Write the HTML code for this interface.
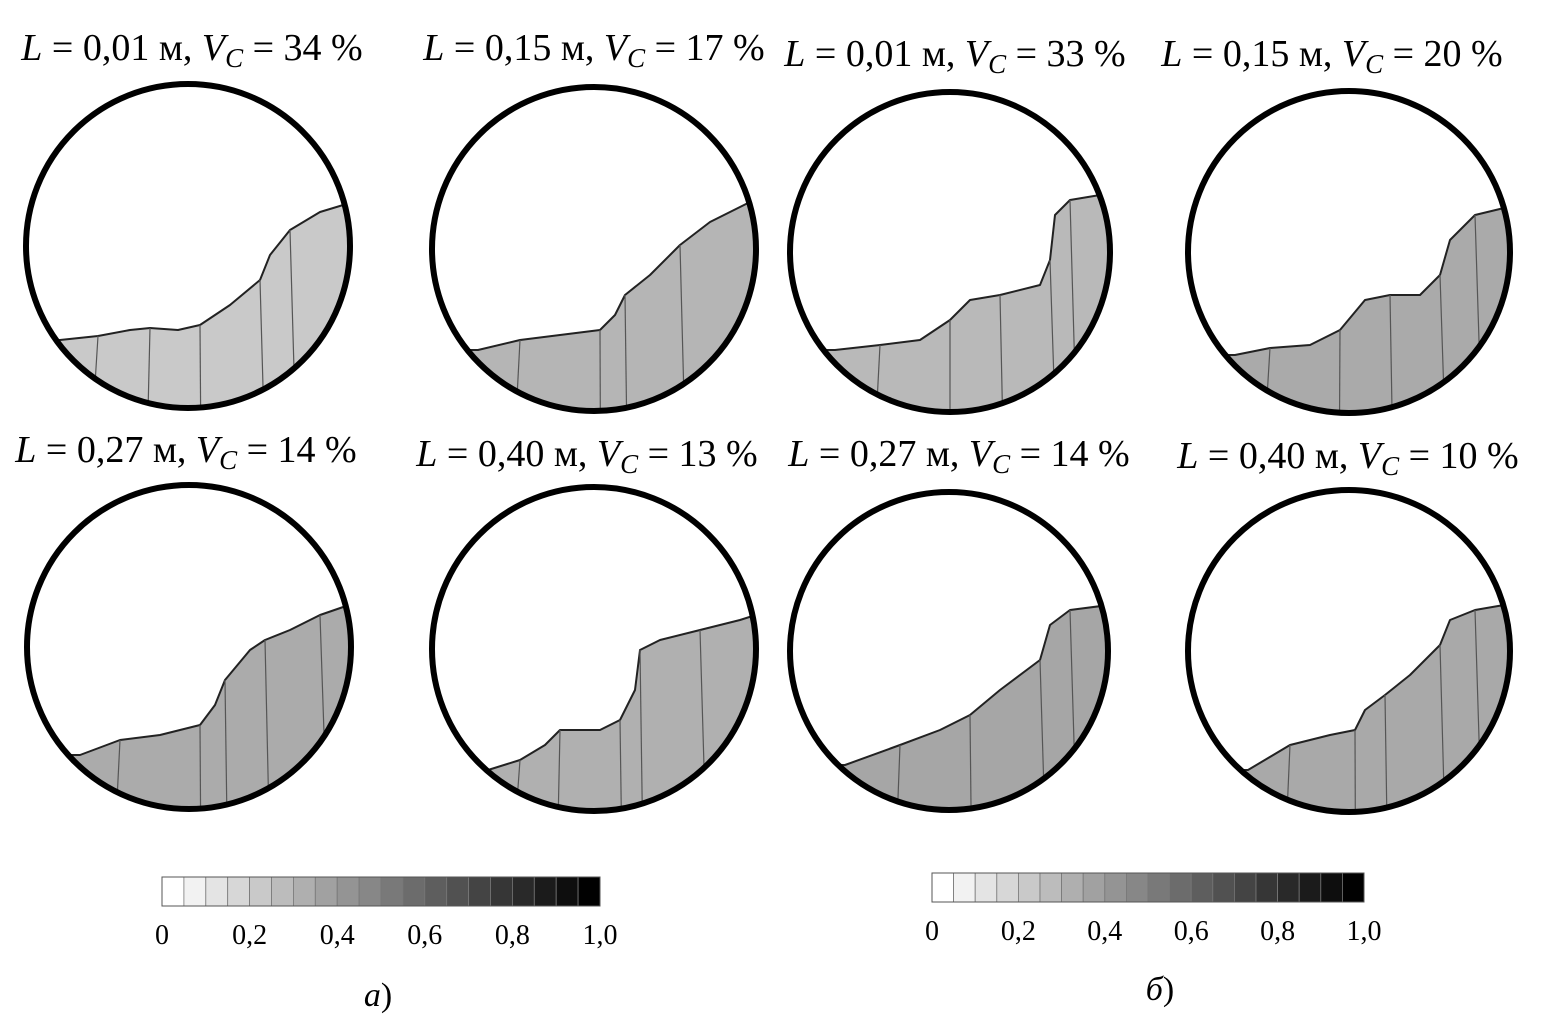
<!DOCTYPE html>
<html><head><meta charset="utf-8">
<style>
html,body{margin:0;padding:0;background:#fff;}
body{width:1544px;height:1030px;overflow:hidden;font-family:"Liberation Serif","Noto Serif CJK SC",serif;}
svg{position:absolute;left:0;top:0;}
text{font-family:"Liberation Serif","Noto Serif CJK SC",serif;}
</style></head>
<body>
<svg id="fig" width="1544" height="1030" viewBox="0 0 1544 1030"></svg>
<script>
const NS="http://www.w3.org/2000/svg";
const titleL=["0,01","0,15","0,01","0,15","0,27","0,40","0,27","0,40"];
const titleV=["34","17","33","20","14","13","14","10"];
const centersX=[188,594,950,1349,189,594,949,1349];
const centersY=[246,249,252,252,647,649,651,651];
const radii=[162,162,160,161,162,162,159,161];
const titleX=[192,594,955,1332,186,587,959,1348];
const titleY=[60,60,66,66,462,466,466,468];
const fills=["#c9c9c9","#b5b5b5","#b9b9b9","#aaaaaa","#ababab","#b0b0b0","#a6a6a6","#a9a9a9"];
const interfaces=[
 [[-128,94],[-90,90],[-58,84],[-38,82],[-10,84],[12,79],[42,59],[72,34],[82,9],[102,-16],[132,-34],[165,-44]],
 [[-116,101],[-74,91],[-34,86],[6,81],[21,66],[31,46],[56,26],[86,-4],[116,-27],[160,-49]],
 [[-115,98],[-70,93],[-30,88],[0,68],[20,48],[50,43],[90,33],[100,8],[105,-37],[120,-52],[150,-57],[165,-55]],
 [[-114,103],[-79,96],[-39,93],[-9,78],[16,48],[41,43],[71,43],[91,23],[101,-12],[126,-37],[155,-44]],
 [[-109,108],[-69,93],[-29,88],[11,78],[26,58],[36,33],[61,3],[76,-7],[101,-17],[131,-32],[160,-42]],
 [[-106,121],[-74,111],[-49,96],[-34,81],[6,81],[26,71],[41,41],[46,1],[66,-9],[106,-19],[146,-29],[165,-35]],
 [[-104,114],[-49,94],[-9,79],[21,64],[51,39],[91,9],[101,-26],[121,-41],[160,-46]],
 [[-101,119],[-59,94],[-19,84],[6,79],[16,59],[36,44],[61,24],[91,-6],[101,-31],[126,-41],[155,-46]]
];
const barTicks=["0","0,2","0,4","0,6","0,8","1,0"];
const barLevels=[0,0.05,0.1,0.15,0.2,0.25,0.3,0.35,0.4,0.45,0.5,0.55,0.6,0.65,0.7,0.75,0.8,0.85,0.9,0.95];
const bars=[{x:162,y:877,w:438,h:29,ly:944,cap:"а)",cx:378,cy:1006},{x:932,y:873,w:432,h:29,ly:940,cap:"б)",cx:1160,cy:1000}];

const svg=document.getElementById('fig');
function el(tag,attrs,parent){const e=document.createElementNS(NS,tag);for(const k in attrs)e.setAttribute(k,attrs[k]);(parent||svg).appendChild(e);return e;}
const defs=el('defs',{});

for(let i=0;i<8;i++){
 const cx=centersX[i],cy=centersY[i],r=radii[i];
 const g=el('g',{});
 
 
 const cp=el('clipPath',{id:'clip'+i},defs);
 el('circle',{cx:cx,cy:cy,r:r},cp);
 const pts=interfaces[i].map(p=>(cx+p[0])+','+(cy+p[1]));
 const last=interfaces[i][interfaces[i].length-1];
 pts.push((cx+r+20)+','+(cy+last[1]));
 pts.push((cx+r+20)+','+(cy+r+20));
 pts.push((cx-r-20)+','+(cy+r+20));
 pts.push((cx-r-20)+','+(cy+interfaces[i][0][1]));
 const poly=el('polygon',{points:pts.join(' '),fill:fills[i],stroke:'#222','stroke-width':2,'stroke-linejoin':'round','clip-path':'url(#clip'+i+')'},g);
 
 
 const ip=interfaces[i];
 for(let k=1;k<ip.length-1;k+=2){
  const ln=el('line',{x1:cx+ip[k][0],y1:cy+ip[k][1],x2:cx+ip[k][0]*1.05,y2:cy+r,stroke:'#555','stroke-width':1.2,'clip-path':'url(#clip'+i+')'},g);
  
  
 }
 const c=el('circle',{cx:cx,cy:cy,r:r,fill:'none',stroke:'#000','stroke-width':6},g);
 
 
 const t=el('text',{x:titleX[i],y:titleY[i],'font-size':38,'text-anchor':'middle',fill:'#000'});
 
 
 t.innerHTML='<tspan font-style="italic">L</tspan> = '+titleL[i]+' м, <tspan font-style="italic">V</tspan><tspan font-style="italic" font-size="27" dy="7">C</tspan><tspan dy="-7"> = '+titleV[i]+' %</tspan>';
}

bars.forEach((b,bi)=>{
 const g=el('g',{});
 
 
 const n=barLevels.length,cw=b.w/n;
 barLevels.forEach((v,j)=>{
  const gv=Math.round(255*(1-v*1.05));
  const cc=Math.max(0,Math.min(255,gv));
  const rc=el('rect',{x:b.x+j*cw,y:b.y,width:cw,height:b.h,fill:'rgb('+cc+','+cc+','+cc+')',stroke:'#777','stroke-width':0.8},g);
  
  
 });
 el('rect',{x:b.x,y:b.y,width:b.w,height:b.h,fill:'none',stroke:'#555','stroke-width':1},g);
 barTicks.forEach((s,j)=>{
  const tx=el('text',{x:b.x+j*b.w/(barTicks.length-1),y:b.ly,'font-size':28,'text-anchor':'middle'},g);
  
  
  tx.textContent=s;
 });
 const cap=el('text',{x:b.cx,y:b.cy,'font-size':34,'text-anchor':'middle'});
 
 
 cap.innerHTML='<tspan font-style="italic">'+b.cap[0]+'</tspan>)';
});
</script>
</body></html>
